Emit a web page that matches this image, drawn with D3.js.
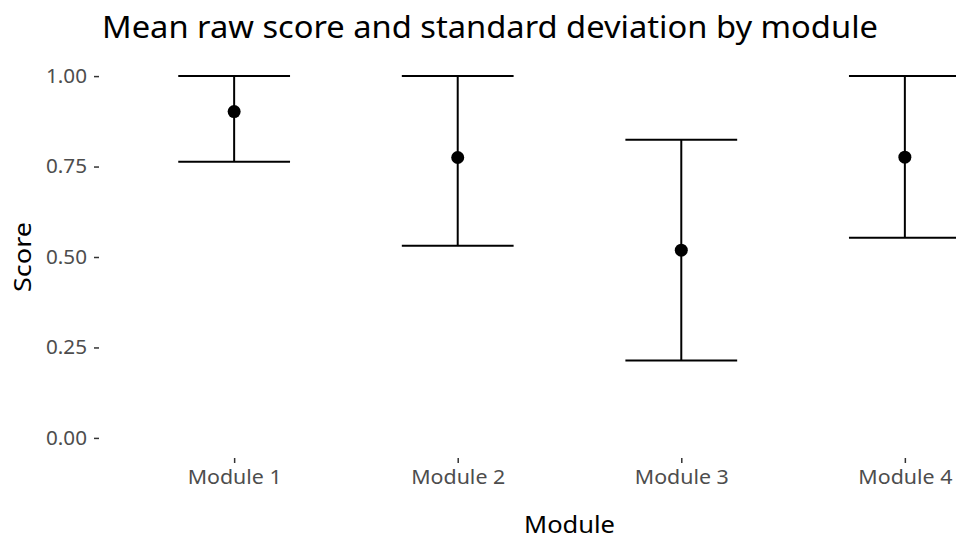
<!DOCTYPE html>
<meta charset="utf-8">
<script src="https://d3js.org/d3.v7.min.js"></script>
<style>
  body { margin: 0; background: #fff; }
  text { font-family: "Noto Sans", "Open Sans", sans-serif; }
</style>
<div id="chart"></div>
<script>

// data
var modules = ["Module 1", "Module 2", "Module 3", "Module 4"];
var means   = [0.902, 0.775, 0.519, 0.776];
var lower   = [0.763, 0.531, 0.214, 0.553];
var upper   = [1.000, 1.000, 0.824, 1.000];
var yTicks  = [0, 0.25, 0.5, 0.75, 1];

var data = modules.map(function(m, i) {
  return { module: m, mean: means[i], lo: lower[i], hi: upper[i] };
});

var width = 956, height = 541;

var svg = d3.select("#chart")
  .append("svg")
    .attr("width", width)
    .attr("height", height);

// panel runs past the right edge, like the cropped original
var panelLeft = 100, panelRight = 1039, panelTop = 58, panelBottom = 456;

var x = d3.scalePoint()
  .domain(modules)
  .range([panelLeft, panelRight])
  .padding(0.6);

var y = d3.scaleLinear()
  .domain([-0.05, 1.05])
  .range([panelBottom, panelTop]);

var step = x.step();

// Y axis
var yAxis = svg.append("g")
  .attr("transform", "translate(" + (panelLeft - 1) + ",0)")
  .call(d3.axisLeft(y).tickValues(yTicks).tickFormat(d3.format(".2f")).tickSize(5).tickPadding(7));
yAxis.select(".domain").remove();
yAxis.selectAll(".tick line").attr("stroke", "#333").attr("stroke-width", 1.5);
yAxis.selectAll(".tick text").attr("fill", "#4d4d4d").style("font-size", "20px")
  .attr("textLength", 41).attr("lengthAdjust", "spacingAndGlyphs");

// X axis
var xAxis = svg.append("g")
  .attr("transform", "translate(0," + (panelBottom + 2) + ")")
  .call(d3.axisBottom(x).tickSize(5).tickPadding(7));
xAxis.select(".domain").remove();
xAxis.selectAll(".tick line").attr("stroke", "#333").attr("stroke-width", 1.5);
xAxis.selectAll(".tick text").attr("fill", "#4d4d4d").style("font-size", "20px")
  .attr("textLength", 94).attr("lengthAdjust", "spacingAndGlyphs");

// error bars
var bars = svg.append("g").selectAll("g")
  .data(data)
  .enter()
  .append("g");

bars.append("line")
  .attr("x1", function(d) { return x(d.module); })
  .attr("x2", function(d) { return x(d.module); })
  .attr("y1", function(d) { return y(d.lo); })
  .attr("y2", function(d) { return y(d.hi); })
  .attr("stroke", "black").attr("stroke-width", 2);

bars.append("line")
  .attr("x1", function(d) { return x(d.module) - step * 0.25; })
  .attr("x2", function(d) { return x(d.module) + step * 0.25; })
  .attr("y1", function(d) { return y(d.hi); })
  .attr("y2", function(d) { return y(d.hi); })
  .attr("stroke", "black").attr("stroke-width", 2);

bars.append("line")
  .attr("x1", function(d) { return x(d.module) - step * 0.25; })
  .attr("x2", function(d) { return x(d.module) + step * 0.25; })
  .attr("y1", function(d) { return y(d.lo); })
  .attr("y2", function(d) { return y(d.lo); })
  .attr("stroke", "black").attr("stroke-width", 2);

bars.append("circle")
  .attr("cx", function(d) { return x(d.module); })
  .attr("cy", function(d) { return y(d.mean); })
  .attr("r", 6.5)
  .attr("fill", "black");

// title
svg.append("text")
  .attr("x", panelLeft + 2)
  .attr("y", 38)
  .style("font-size", "31px")
  .attr("fill", "black")
  .attr("textLength", 776)
  .attr("lengthAdjust", "spacingAndGlyphs")
  .text("Mean raw score and standard deviation by module");

// axis titles
svg.append("text")
  .attr("x", (panelLeft + panelRight) / 2)
  .attr("y", 533)
  .attr("text-anchor", "middle")
  .style("font-size", "24px")
  .attr("textLength", 91)
  .attr("lengthAdjust", "spacingAndGlyphs")
  .text("Module");

svg.append("text")
  .attr("transform", "translate(31," + ((panelTop + panelBottom) / 2) + ") rotate(-90)")
  .attr("text-anchor", "middle")
  .style("font-size", "24px")
  .attr("textLength", 70)
  .attr("lengthAdjust", "spacingAndGlyphs")
  .text("Score");

</script>
